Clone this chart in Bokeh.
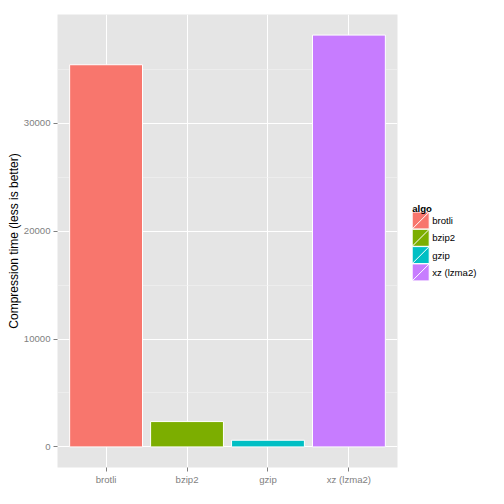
from bokeh.plotting import figure
from bokeh.layouts import row
from bokeh.models import FixedTicker, Range1d, FactorRange, BasicTickFormatter
from bokeh.core.properties import value
from bokeh.embed import file_html
from bokeh.resources import INLINE

# data
algos = ["brotli", "bzip2", "gzip", "xz (lzma2)"]
times = [35440, 2350, 620, 38190]
colors = ["#F8766D", "#7CAE00", "#00BFC4", "#C77CFF"]
y_ticks = [0, 10000, 20000, 30000]
y_minor = [5000, 15000, 25000, 35000]

FONT = "Liberation Sans"
GREY = "#7F7F7F"
pad = max(times) * 0.05

p = figure(x_range=FactorRange(*algos, range_padding=0.1, range_padding_units="absolute"),
           y_range=Range1d(-pad, max(times) + pad),
           frame_width=340, frame_height=453,
           min_border_left=57, min_border_right=6, min_border_top=14, min_border_bottom=29,
           output_backend="svg", toolbar_location=None)
p.background_fill_color = "#E5E5E5"
p.outline_line_color = None

p.vbar(x=algos, top=times, width=0.9, fill_color=colors, line_color="white", line_width=1)

p.yaxis.ticker = FixedTicker(ticks=y_ticks, minor_ticks=y_minor)
p.yaxis.formatter = BasicTickFormatter(use_scientific=False)
p.grid.grid_line_color = "white"
p.grid.grid_line_width = 1
p.ygrid.minor_grid_line_color = "#F2F2F2"
p.ygrid.minor_grid_line_width = 0.6

p.axis.axis_line_color = None
p.axis.major_tick_line_color = GREY
p.axis.major_tick_out = 4
p.axis.major_tick_in = 0
p.axis.minor_tick_line_color = None
p.axis.major_label_text_color = GREY
p.axis.major_label_text_font = FONT
p.axis.major_label_text_font_size = "9.6px"
p.yaxis.major_label_standoff = 3
p.xaxis.major_label_standoff = 2
p.yaxis.axis_label = "Compression time (less is better)"
p.yaxis.axis_label_text_font = FONT
p.yaxis.axis_label_text_font_size = "12px"
p.yaxis.axis_label_text_font_style = "normal"
p.yaxis.axis_label_text_color = "black"
p.yaxis.axis_label_standoff = 0

# legend in its own little figure; the row aligns its frame with the main
# panel (y 14..467), so page pixel coordinates are used, y pointing down
leg = figure(width=93, height=496, x_range=Range1d(403, 496), y_range=Range1d(467, 14),
             min_border=0, min_border_top=14, min_border_bottom=29,
             output_backend="svg", toolbar_location=None,
             x_axis_location=None, y_axis_location=None)
leg.outline_line_color = None
leg.grid.visible = False

kx, ky0, ks, kstep = 411.7, 211.5, 17, 17.3
tops = [ky0 + i * kstep for i in range(len(algos))]
bots = [t + ks for t in tops]
leg.quad(left=kx, right=kx + ks, top=tops, bottom=bots, fill_color=colors,
         line_color="white", line_width=1)
leg.segment(x0=kx, y0=bots, x1=kx + ks, y1=tops, line_color="white", line_width=1)
leg.text(x=kx + ks + 3, y=[t + ks / 2 for t in tops], text=algos,
         text_font=value(FONT), text_font_size="9.6px", text_baseline="middle",
         text_color="black")
leg.text(x=[kx], y=[207.5], text=["algo"], text_font=value(FONT),
         text_font_size="9.6px", text_font_style="bold", text_baseline="alphabetic")

layout = row(p, leg)
open("out.html", "w").write(file_html(layout, INLINE))
